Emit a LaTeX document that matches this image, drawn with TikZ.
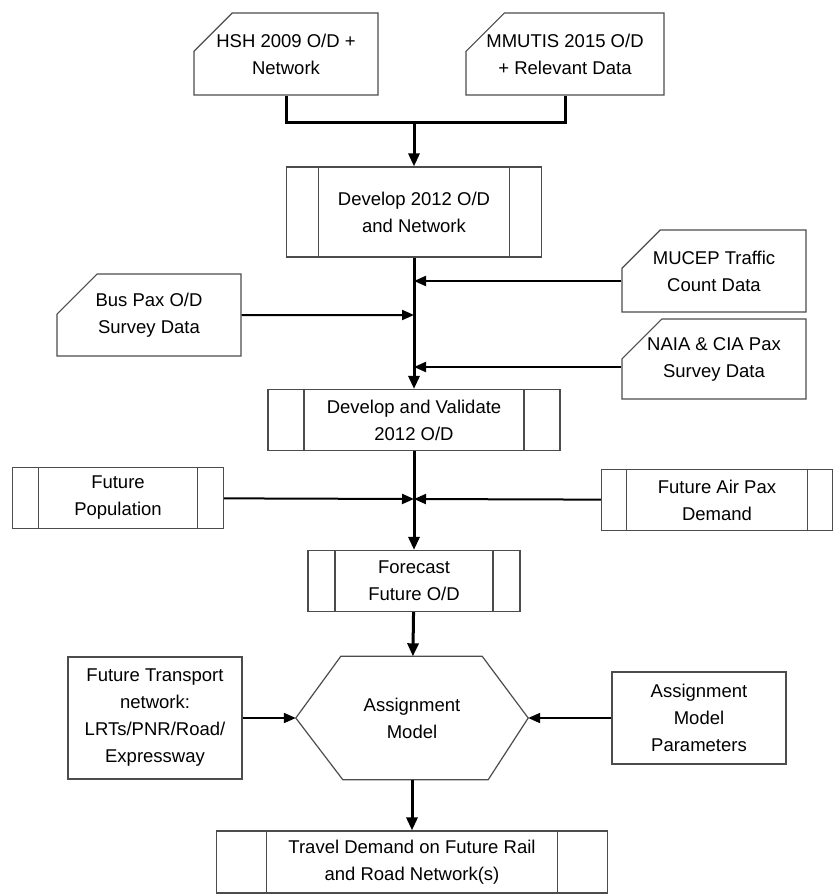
\documentclass[tikz,border=0pt]{standalone}
\usepackage{fontspec}
\setmainfont{Liberation Sans}
\usetikzlibrary{arrows.meta,shapes.misc}

\tikzset{
  datacard/.style={draw=black!70, line width=1.2pt, fill=white, chamfered rectangle,
    chamfered rectangle corners=north west, chamfered rectangle xsep=38pt,
    chamfered rectangle ysep=18pt, align=center, inner sep=0pt},
  process/.style={draw=black!70, line width=1.2pt, rectangle, align=center, inner sep=0pt,
    path picture={\draw[black!70, line width=1.2pt]
      ([xshift=#1]path picture bounding box.south west) -- ([xshift=#1]path picture bounding box.north west)
      ([xshift=-#1]path picture bounding box.south east) -- ([xshift=-#1]path picture bounding box.north east);}},
  process/.default=30pt,
  plainbox/.style={draw=black!70, line width=1.2pt, rectangle, align=center, inner sep=0pt},
  mainflow/.style={line width=3pt, -{Triangle[length=13pt,width=11pt]}},
  sideflow/.style={line width=2pt, -{Triangle[length=12pt,width=10pt]}}
}

\begin{document}
\begin{tikzpicture}[x=1pt, y=-1pt, font=\fontsize{18.5}{27}\selectfont]
\useasboundingbox (0,0) rectangle (833,894);
% dati di partenza
   \node[datacard, minimum width=184pt, minimum height=82pt] (hsh) at (286,54) {HSH 2009 O/D +\\Network};
   \node[datacard, minimum width=186pt, minimum height=82pt] (mmu) at (565,54) {MMUTIS 2015 O/D\\+ Relevant Data};
   \node[process=32pt, minimum width=255pt, minimum height=90pt] (dev1) at (414,212) {Develop 2012 O/D\\and Network};
   \coordinate (jn) at (414,122);
   \draw[line width=3pt] (hsh.south) |- (jn) -| (mmu.south);
   \draw[mainflow] (jn) -- (dev1);
% dati di indagine
   \node[datacard, minimum width=184pt, minimum height=82pt] (muc) at (714,271) {MUCEP Traffic\\Count Data};
   \node[datacard, minimum width=184pt, minimum height=82pt] (bus) at (149,315) {Bus Pax O/D\\Survey Data};
   \node[datacard, minimum width=184pt, minimum height=80pt] (naia) at (714,359) {NAIA \& CIA Pax\\Survey Data};
   \node[process=36pt, minimum width=292pt, minimum height=61pt] (dev2) at (414,420) {Develop and Validate\\2012 O/D};
   \coordinate (k1) at (414,281); \coordinate (k2) at (414,315); \coordinate (k3) at (414,367);
   \draw[mainflow] (dev1) -- (dev2);
   \draw[sideflow] (muc.west |- k1) -- (k1);
   \draw[sideflow] (bus) -- (k2);
   \draw[sideflow] (naia.west |- k3) -- (k3);
% previsione
   \node[process=26pt, minimum width=211pt, minimum height=61pt] (pop) at (118,498) {Future\\Population};
   \node[process=25pt, minimum width=231pt, minimum height=61pt] (air) at (717,500) {Future Air Pax\\Demand};
   \node[process=27pt, minimum width=212pt, minimum height=61pt] (fc) at (414,581) {Forecast\\Future O/D};
   \coordinate (k4) at (414,499);
   \draw[mainflow] (dev2) -- (fc);
   \draw[sideflow] (pop) -- (k4);
   \draw[sideflow] (air) -- (k4);
% assegnazione
   \node[minimum width=232pt, minimum height=123pt, align=center, inner sep=0pt] (asg) at (412,718) {Assignment\\Model};
   \draw[black!70, line width=1.2pt] (asg.west) -- ([xshift=45pt]asg.north west) -- ([xshift=-46pt]asg.north east)
   -- (asg.east) -- ([xshift=-40pt]asg.south east) -- ([xshift=47pt]asg.south west) -- cycle;
   \node[plainbox, minimum width=174pt, minimum height=122pt] (ftn) at (155,718) {Future Transport\\network:\\LRTs/PNR/Road/\\Expressway};
   \node[plainbox, minimum width=174pt, minimum height=92pt] (par) at (699,718) {Assignment\\Model\\Parameters};
   \node[process=50pt, minimum width=391pt, minimum height=62pt] (td) at (412,862) {Travel Demand on Future Rail\\and Road Network(s)};
   \draw[mainflow] (fc) -- (asg);
   \draw[sideflow] (ftn) -- (asg.west);
   \draw[sideflow] (par) -- (asg.east);
   \draw[mainflow] (asg) -- (td);
\end{tikzpicture}
\end{document}
